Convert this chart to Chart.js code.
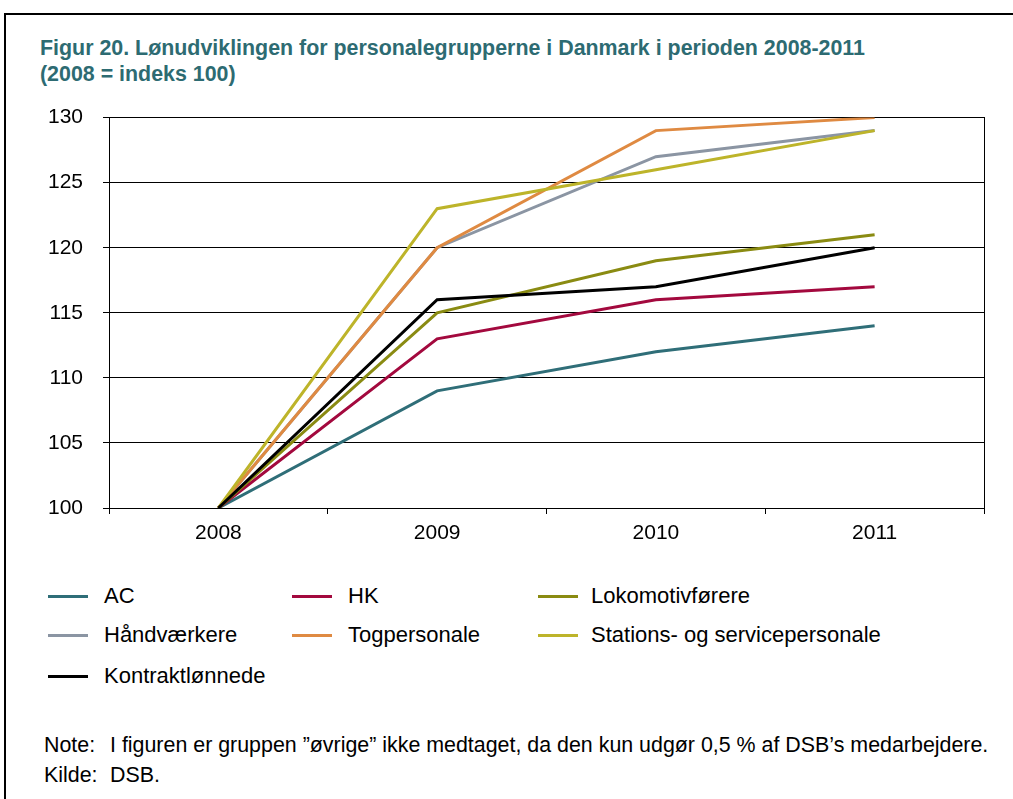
<!DOCTYPE html>
<html>
<head>
<meta charset="utf-8">
<script src="https://cdn.jsdelivr.net/npm/chart.js@4/dist/chart.umd.min.js"></script>
<style>
  body { margin: 0; background: #fff; font-family: "Liberation Sans", Arial, sans-serif; }
  #page { position: relative; width: 1013px; height: 799px; overflow: hidden; }
  #frame { position: absolute; left: 4px; top: 13px; width: 1020px; height: 800px;
    border-top: 2px solid #000; border-left: 2px solid #000; }
  #title { position: absolute; left: 40px; top: 35px; color: #2d6b72; font-weight: bold;
    font-size: 21.4px; line-height: 26px; }
  #wrap { position: absolute; left: 0; top: 85px; }
  .leg { position: absolute; font-size: 22px; color: #000; line-height: 24px; }
  .leg i { position: absolute; left: 0; top: 11px; width: 40px; height: 3px; }
  .leg span { position: absolute; white-space: nowrap; }
  #note { position: absolute; left: 44px; top: 730px; font-size: 21.4px; line-height: 30px; color: #000; white-space: nowrap; }
  #note b { font-weight: normal; display: inline-block; width: 66px; }
</style>
</head>
<body>
<div id="page">
  <div id="frame"></div>
  <div id="title">Figur 20. Lønudviklingen for personalegrupperne i Danmark i perioden 2008-2011<br>(2008 = indeks 100)</div>
  <div id="wrap"><canvas id="chart" width="1013" height="463"></canvas></div>
  <div id="legend"></div>
  <div id="note"><b>Note:</b>I figuren er gruppen ”øvrige” ikke medtaget, da den kun udgør 0,5 % af DSB’s medarbejdere.<br><b>Kilde:</b>DSB.</div>
</div>
<script>
let years = ["2008", "2009", "2010", "2011"];
let seriesNames = ["AC", "HK", "Lokomotivførere", "Håndværkere", "Togpersonale", "Stations- og servicepersonale", "Kontraktlønnede"];
let acValues = [100, 109, 112, 114];
let hkValues = [100, 113, 116, 117];
let lokoValues = [100, 115, 119, 121];
let haandValues = [100, 120, 127, 129];
let togValues = [100, 120, 129, 130];
let stationValues = [100, 123, 126, 129];
let kontraktValues = [100, 116, 117, 120];
let seriesColors = ["#2f6e78", "#a3093e", "#8a8b12", "#8b95a3", "#df8a42", "#bdb42a", "#000000"];
let drawOrder = [6, 5, 4, 3, 2, 1, 0];

let allValues = [acValues, hkValues, lokoValues, haandValues, togValues, stationValues, kontraktValues];

let datasets = seriesNames.map((name, i) => ({
  label: name,
  data: allValues[i],
  borderColor: seriesColors[i],
  backgroundColor: seriesColors[i],
  borderWidth: 3,
  pointRadius: 0,
  tension: 0,
  order: drawOrder[i],
}));

// legend: 3 columns, built from the series
let legendCols = [48, 292, 538];
let legendRows = [584, 623, 664];
let legendBox = document.getElementById("legend");
seriesNames.forEach((name, i) => {
  let el = document.createElement("div");
  el.className = "leg";
  el.style.left = legendCols[i % 3] + "px";
  el.style.top = legendRows[Math.floor(i / 3)] + "px";
  el.innerHTML = `<i style="background:${seriesColors[i]}"></i><span style="left:${i % 3 == 2 ? 53 : 56}px">${name}</span>`;
  legendBox.appendChild(el);
});

new Chart("chart", {
  type: "line",
  data: { labels: years, datasets: datasets },
  options: {
    responsive: false,
    animation: false,
    layout: { padding: { left: 0, right: 29, top: 3, bottom: 0 } },
    plugins: { legend: { display: false }, tooltip: { enabled: false } },
    scales: {
      x: {
        offset: true,
        ticks: { color: "#000", font: { family: "Liberation Sans", size: 21 }, padding: 7 },
        grid: { offset: true, drawOnChartArea: false, drawTicks: true, tickLength: 6, color: "#000" },
        border: { color: "#000", width: 1 },
        afterFit: (s) => { s.height = 40; },
      },
      y: {
        min: 100,
        max: 130,
        ticks: { stepSize: 5, color: "#000", font: { family: "Liberation Sans", size: 21 }, padding: 20 },
        grid: { color: "#000", lineWidth: 1, tickLength: 6 },
        border: { color: "#000", width: 1 },
        afterFit: (s) => { s.width = 109; },
      },
      yRight: {
        position: "right",
        min: 100,
        max: 130,
        ticks: { display: false },
        grid: { display: false },
        border: { color: "#000", width: 1 },
        afterFit: (s) => { s.width = 0; },
      },
    },
  },
});
</script>
</body>
</html>
